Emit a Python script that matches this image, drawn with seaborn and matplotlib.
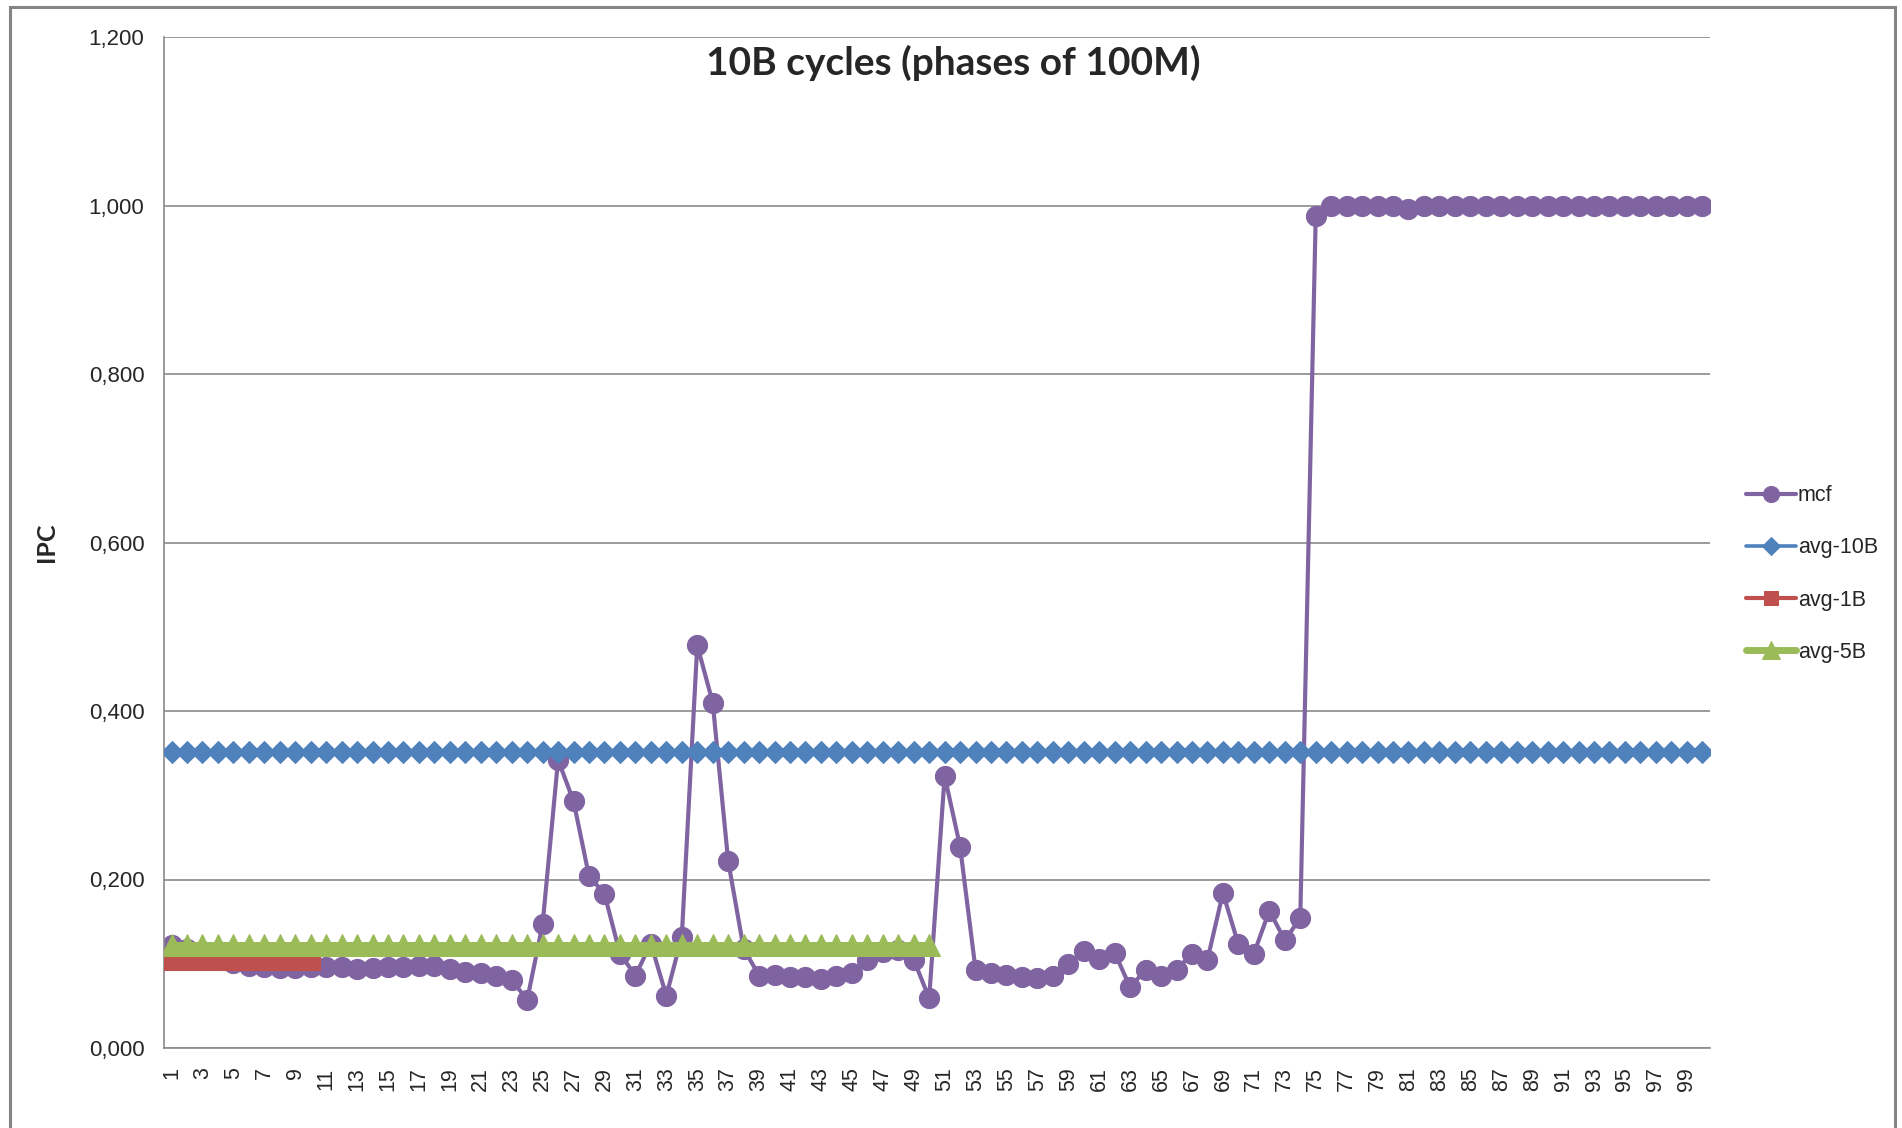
import numpy as np
import pandas as pd
import matplotlib
matplotlib.use("Agg")
from matplotlib import pyplot as plt
from matplotlib.ticker import FuncFormatter, FixedLocator
from matplotlib.patches import Rectangle
import seaborn as sns

# phases of 100M cycles, 100 phases = 10B cycles
phases = list(range(1, 101))
mcf = [0.122, 0.118, 0.108, 0.104, 0.101, 0.097, 0.096, 0.095, 0.095, 0.096,
       0.096, 0.096, 0.094, 0.095, 0.096, 0.096, 0.097, 0.097, 0.094, 0.090,
       0.089, 0.086, 0.081, 0.057, 0.147, 0.342, 0.293, 0.204, 0.183, 0.112,
       0.086, 0.124, 0.062, 0.132, 0.478, 0.410, 0.222, 0.118, 0.086, 0.087,
       0.084, 0.084, 0.082, 0.086, 0.089, 0.104, 0.114, 0.116, 0.105, 0.059,
       0.323, 0.239, 0.093, 0.089, 0.087, 0.084, 0.083, 0.085, 0.100, 0.115,
       0.106, 0.113, 0.072, 0.093, 0.086, 0.093, 0.112, 0.105, 0.184, 0.123,
       0.112, 0.163, 0.128, 0.154, 0.987, 0.999, 0.999, 0.999, 0.999, 0.999,
       0.996, 0.999, 0.999, 0.999, 0.999, 0.999, 0.999, 0.999, 0.999, 0.999,
       0.999, 0.999, 0.999, 0.999, 0.999, 0.999, 0.999, 0.999, 0.999, 0.999]
avg_10b = [0.351] * 100   # average over all 10B
avg_1b = [0.103] * 10     # average over first 1B
avg_5b = [0.122] * 50     # average over first 5B

sns.set_style("white")
plt.rcParams['font.family'] = ['Liberation Sans', 'DejaVu Sans']

fig = plt.figure(figsize=(19.02, 11.28), dpi=100)
ax = fig.add_axes([163.8 / 1902, 1 - 1048 / 1128, (1710 - 163.8) / 1902, (1048 - 37) / 1128])

sns.lineplot(x=phases, y=mcf, ax=ax, color="#8064A2", marker="o", markersize=14.5,
             markeredgecolor="#8064A2", linewidth=3, label="mcf", estimator=None, zorder=2)
sns.lineplot(x=phases, y=avg_10b, ax=ax, color="#4F81BD", marker="D", markersize=11.5,
             markeredgecolor="#4F81BD", linewidth=2.6, label="avg-10B", estimator=None, zorder=3)
sns.lineplot(x=phases[:10], y=avg_1b, ax=ax, color="#C0504D", marker="s", markersize=12.5,
             markeredgecolor="#C0504D", linewidth=3, label="avg-1B", estimator=None, zorder=4)
sns.lineplot(x=phases[:50], y=avg_5b, ax=ax, color="#9BBB59", marker="^", markersize=16,
             markeredgecolor="#9BBB59", linewidth=5, label="avg-5B", estimator=None, zorder=5)

ax.set_xlim(0.5, 100.5)
ax.set_ylim(0, 1.2)
ax.set_yticks(np.arange(0, 1.21, 0.2))
ax.yaxis.set_major_formatter(FuncFormatter(lambda v, p: f"{v:.3f}".replace('.', ',')))
ax.yaxis.grid(True, color="#8a8a8a", linewidth=1.2)
ax.set_axisbelow(True)

ax.xaxis.set_major_locator(FixedLocator(phases[::2]))
ax.xaxis.set_minor_locator(FixedLocator(np.arange(0.5, 101, 1)))
ax.set_xticklabels([str(p) for p in phases[::2]], rotation=90)
ax.tick_params(axis='x', which='major', length=0, labelsize=15.5, pad=14)
ax.tick_params(axis='x', which='minor', length=8, width=1.1, color="#8a8a8a", direction='out')
ax.tick_params(axis='y', which='major', length=8, width=1.1, color="#8a8a8a", labelsize=16,
               direction='out', pad=6)

for side in ['top', 'right']:
    ax.spines[side].set_visible(False)
for side in ['left', 'bottom']:
    ax.spines[side].set_color("#8a8a8a")
    ax.spines[side].set_linewidth(1.2)

ax.set_xlabel("")
ax.set_ylabel("IPC", fontsize=18, fontweight='bold', family=['Lato', 'DejaVu Sans'], labelpad=22)

fig.text(953 / 1902, 1 - 63 / 1128, "10B cycles (phases of 100M)", ha='center', va='center',
         fontsize=28, fontweight='bold', family=['Lato', 'DejaVu Sans'])

leg = ax.legend(loc='center left', bbox_to_anchor=(1746 / 1902, 1 - 574 / 1128),
                bbox_transform=fig.transFigure, frameon=False, fontsize=15.5,
                handlelength=2.3, handletextpad=0.1, labelspacing=1.45,
                borderpad=0, borderaxespad=0, markerscale=0.8)

# outer chart frame (bottom edge is cut off)
fig.patches.append(Rectangle((10 / 1902, -0.05), (1895 - 10) / 1902, 1.05 - 7 / 1128,
                             transform=fig.transFigure, fill=False,
                             edgecolor="#858585", linewidth=2.2))

plt.savefig("out.png", dpi=100)
plt.close()
